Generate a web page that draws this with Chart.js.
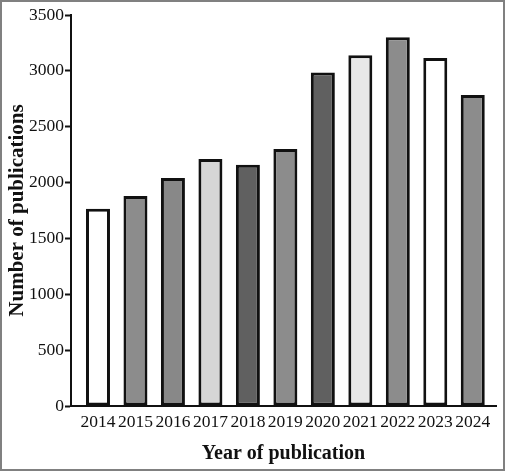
<!DOCTYPE html>
<html>
<head>
<meta charset="utf-8">
<script src="https://cdn.jsdelivr.net/npm/chart.js"></script>
<style>
  html, body { margin: 0; padding: 0; background: #fff; }
  #frame { width: 505px; height: 471px; box-sizing: border-box; border: 2px solid #808080; }
  canvas { display: block; }
</style>
</head>
<body>
<div id="frame"><canvas id="chart" width="501" height="467"></canvas></div>
<script>
// publications per year
const years = [2014, 2015, 2016, 2017, 2018, 2019, 2020, 2021, 2022, 2023, 2024];
const publications = [1765, 1880, 2040, 2210, 2160, 2300, 2985, 3140, 3300, 3115, 2785];
const barColors = ["#ffffff", "#8c8c8c", "#888888", "#d6d6d6", "#606060", "#8c8c8c",
                   "#606060", "#e8e8e8", "#8c8c8c", "#ffffff", "#8c8c8c"];
const yTicks = [0, 500, 1000, 1500, 2000, 2500, 3000, 3500];

const serif = "'Liberation Serif', 'Times New Roman', serif";

new Chart(document.getElementById("chart").getContext("2d"), {
  type: "bar",
  data: {
    datasets: [{
      data: years.map((y, i) => ({ x: y, y: publications[i] })),
      backgroundColor: barColors,
      borderColor: "#111",
      borderWidth: 3,
      borderSkipped: false,
      barPercentage: 0.64,
      categoryPercentage: 1
    }]
  },
  options: {
    responsive: false,
    animation: false,
    layout: { padding: { top: 13, right: 7, bottom: 0, left: 0 } },
    plugins: { legend: { display: false }, tooltip: { enabled: false } },
    scales: {
      x: {
        type: "linear",
        offset: false,
        min: 2013.28,
        max: 2024.62,
        afterFit: s => { s.height = 63; },
        afterBuildTicks: s => { s.ticks = years.map(v => ({ value: v })); },
        grid: { display: true, offset: false, drawOnChartArea: false, drawTicks: false },
        border: { display: true, color: "#111", width: 2 },
        ticks: {
          autoSkip: false, maxRotation: 0, padding: 6, color: "#111",
          font: { family: serif, size: 17.5 },
          callback: v => String(v)
        },
        title: {
          display: true, text: "Year of publication", color: "#111",
          font: { family: serif, size: 20, weight: "bold" },
          padding: { top: 0, bottom: 3 }
        }
      },
      y: {
        min: 0,
        max: 3500,
        afterFit: s => { s.width = 69; },
        afterBuildTicks: s => { s.ticks = yTicks.map(v => ({ value: v })); },
        grid: { display: true, drawOnChartArea: false, tickLength: 6, tickWidth: 2, tickColor: "#111" },
        border: { display: true, color: "#111", width: 2 },
        ticks: {
          padding: 1, color: "#111",
          font: { family: serif, size: 17.5 },
          callback: v => String(v)
        },
        title: {
          display: true, text: "Number of publications", color: "#111",
          font: { family: serif, size: 21, weight: "bold" },
          padding: { top: 3, bottom: 0 }
        }
      }
    }
  }
});
</script>
</body>
</html>
